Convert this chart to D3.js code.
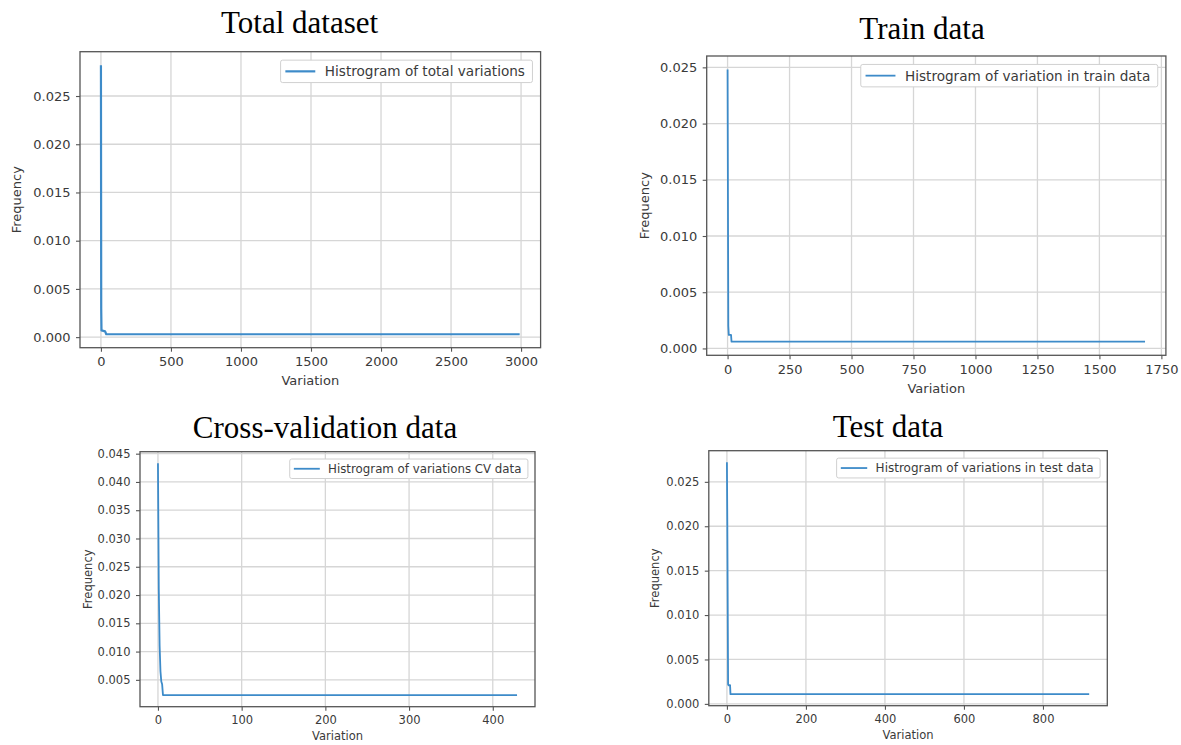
<!DOCTYPE html>
<html>
<head>
<meta charset="utf-8">
<script src="https://cdn.jsdelivr.net/npm/d3@7"></script>
<style>
body { margin: 0; background: #fff; }
svg { display: block; }
.tick text { fill: #3a3a3a; font-family: "DejaVu Sans", sans-serif; }
.tick line { stroke: #555; }
</style>
</head>
<body>
<svg id="chart" width="1181" height="745"></svg>
<script>
// values
var totalX = [0, 2, 4, 30, 38, 2990],
    totalY = [0.0282, 0.003, 0.0007, 0.0006, 0.0003, 0.0003];

var trainX = [0, 3, 5, 14, 16, 1684],
    trainY = [0.0248, 0.002, 0.0012, 0.0012, 0.0006, 0.0006];

var cvX = [0, 1, 2, 3, 4, 5, 6, 429],
    cvY = [0.0433, 0.021, 0.011, 0.0065, 0.0047, 0.0042, 0.0023, 0.0023];

var testX = [0, 1, 3, 4, 8, 9, 917],
    testY = [0.0272, 0.0205, 0.0022, 0.0021, 0.0021, 0.0011, 0.0011];

var titles = ["Total dataset", "Train data", "Cross-validation data", "Test data"];
var legendLabels = [
    "Histrogram of total variations",
    "Histrogram of variation in train data",
    "Histrogram of variations CV data",
    "Histrogram of variations in test data"
];

var xTicks = [
    [0, 500, 1000, 1500, 2000, 2500, 3000],
    [0, 250, 500, 750, 1000, 1250, 1500, 1750],
    [0, 100, 200, 300, 400],
    [0, 200, 400, 600, 800]
];
var yTicks = [
    [0, 0.005, 0.010, 0.015, 0.020, 0.025],
    [0, 0.005, 0.010, 0.015, 0.020, 0.025],
    [0.005, 0.010, 0.015, 0.020, 0.025, 0.030, 0.035, 0.040, 0.045],
    [0, 0.005, 0.010, 0.015, 0.020, 0.025]
];

var seriesX = [totalX, trainX, cvX, testX],
    seriesY = [totalY, trainY, cvY, testY];

// layout of the four panels
var panels = [
    {left: 80, right: 540.6, top: 51.7, bottom: 347.7, font: 13, legFont: 13.6, lw: 2.2, titleX: 299.6, titleY: 33, xLabelY: 385, yLabelX: 16},
    {left: 706.7, right: 1165.9, top: 56, bottom: 355.3, font: 13, legFont: 13.6, lw: 1.8, titleX: 922, titleY: 39, xLabelY: 393, yLabelX: 644},
    {left: 140, right: 535, top: 451.7, bottom: 706.7, font: 11.5, legFont: 11.8, lw: 1.8, titleX: 325, titleY: 438, xLabelY: 740, yLabelX: 88},
    {left: 708.8, right: 1107.3, top: 450.7, bottom: 705.7, font: 11.5, legFont: 12, lw: 1.8, titleX: 888, titleY: 437, xLabelY: 739, yLabelX: 655}
];

var lineColor = "#3d8bc9";

var svg = d3.select("#chart");

// matplotlib-like 5% margins
function padded(values) {
    var e = d3.extent(values), m = (e[1] - e[0]) * 0.05;
    return [e[0] - m, e[1] + m];
}

panels.forEach(function(p, i) {
    var xs = seriesX[i], ys = seriesY[i];
    var pts = xs.map(function(v, j) { return [v, ys[j]]; });

    var x = d3.scaleLinear().domain(padded(xs)).range([p.left, p.right]);
    var y = d3.scaleLinear().domain(padded(ys)).range([p.bottom, p.top]);

    var g = svg.append("g");

    // grid
    g.append("g").selectAll("line")
        .data(xTicks[i])
        .join("line")
        .attr("x1", d => x(d)).attr("x2", d => x(d))
        .attr("y1", p.top).attr("y2", p.bottom)
        .attr("stroke", "#d6d6d6").attr("stroke-width", 1.3);
    g.append("g").selectAll("line")
        .data(yTicks[i])
        .join("line")
        .attr("x1", p.left).attr("x2", p.right)
        .attr("y1", d => y(d)).attr("y2", d => y(d))
        .attr("stroke", "#d6d6d6").attr("stroke-width", 1.3);

    // axes
    var xAxis = g.append("g")
        .attr("transform", "translate(0," + p.bottom + ")")
        .call(d3.axisBottom(x).tickValues(xTicks[i]).tickFormat(d3.format("d"))
            .tickSize(4).tickPadding(5));
    var yAxis = g.append("g")
        .attr("transform", "translate(" + p.left + ",0)")
        .call(d3.axisLeft(y).tickValues(yTicks[i]).tickFormat(d3.format(".3f"))
            .tickSize(4).tickPadding(5.5));
    [xAxis, yAxis].forEach(function(a) {
        a.select(".domain").remove();
        a.selectAll("text").style("font-size", p.font + "px");
        a.selectAll("line").attr("stroke-width", 1.1);
    });

    // data line
    g.append("path")
        .datum(pts)
        .attr("fill", "none")
        .attr("stroke", lineColor)
        .attr("stroke-width", p.lw)
        .attr("stroke-linejoin", "round")
        .attr("d", d3.line().x(d => x(d[0])).y(d => y(d[1])));

    // frame
    g.append("rect")
        .attr("x", p.left).attr("y", p.top)
        .attr("width", p.right - p.left).attr("height", p.bottom - p.top)
        .attr("fill", "none").attr("stroke", "#555").attr("stroke-width", 1.3);

    // legend
    var f = p.legFont;
    var leg = g.append("g");
    var box = leg.append("rect")
        .attr("fill", "#fff").attr("stroke", "#d0d0d0").attr("stroke-width", 1)
        .attr("rx", 2);
    var lt = leg.append("text")
        .attr("font-family", "DejaVu Sans, sans-serif")
        .attr("font-size", f)
        .attr("fill", "#3a3a3a")
        .text(legendLabels[i]);
    var tw = lt.node().getComputedTextLength();
    var bh = f * 1.65,
        bw = 0.35 * f + 2.2 * f + 0.7 * f + tw + 0.55 * f,
        bx = p.right - 0.6 * f - bw,
        by = p.top + 0.62 * f;
    box.attr("x", bx).attr("y", by).attr("width", bw).attr("height", bh);
    leg.append("line")
        .attr("x1", bx + 0.35 * f).attr("x2", bx + 2.55 * f)
        .attr("y1", by + bh / 2).attr("y2", by + bh / 2)
        .attr("stroke", lineColor).attr("stroke-width", p.lw);
    lt.attr("x", bx + 3.25 * f).attr("y", by + bh / 2).attr("dy", "0.36em");

    // axis labels
    g.append("text")
        .attr("x", (p.left + p.right) / 2).attr("y", p.xLabelY)
        .attr("text-anchor", "middle")
        .attr("font-family", "DejaVu Sans, sans-serif")
        .attr("font-size", p.font).attr("fill", "#3a3a3a")
        .text("Variation");
    g.append("text")
        .attr("transform", "translate(" + p.yLabelX + "," + ((p.top + p.bottom) / 2) + ") rotate(-90)")
        .attr("text-anchor", "middle")
        .attr("dy", "0.36em")
        .attr("font-family", "DejaVu Sans, sans-serif")
        .attr("font-size", p.font).attr("fill", "#3a3a3a")
        .text("Frequency");

    // title
    g.append("text")
        .attr("x", p.titleX).attr("y", p.titleY)
        .attr("text-anchor", "middle")
        .attr("font-family", "Liberation Serif, Times New Roman, serif")
        .attr("font-size", 31).attr("fill", "#000")
        .text(titles[i]);
});
</script>
</body>
</html>
